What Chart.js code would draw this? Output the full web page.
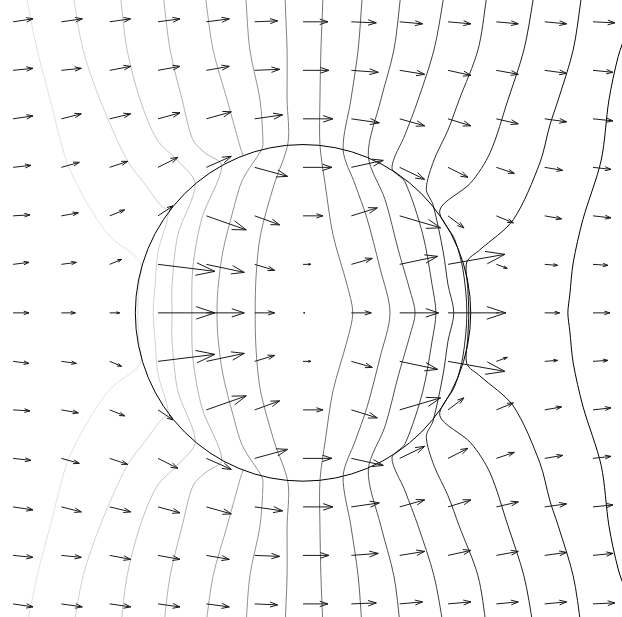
<!DOCTYPE html>
<html>
<head>
<meta charset="utf-8">
<script src="https://cdn.jsdelivr.net/npm/chart.js@4.4.1/dist/chart.umd.min.js"></script>
<style>
  html, body { margin: 0; padding: 0; background: #fff; }
  #wrap { width: 622px; height: 617px; }
</style>
</head>
<body>
<div id="wrap"><canvas id="chart" width="622" height="617"></canvas></div>
<script>
// Arrow tails sit on a 13 x 13 grid (data units).
const GRID_X = [-6, -5, -4, -3, -2, -1, 0, 1, 2, 3, 4, 5, 6];
const GRID_Y = [6, 5, 4, 3, 2, 1, 0, -1, -2, -3, -4, -5, -6];

// Field components per grid row (same order as GRID_Y), v positive = up.
const ARROW_U = [
    [20, 21, 21, 22, 23, 23, 25, 25, 23, 23, 22, 22, 22],
    [20, 20, 21, 22, 23, 25, 26, 27, 25, 23, 22, 22, 20],
    [20, 20, 21, 22, 25, 28, 30, 28, 25, 23, 22, 22, 20],
    [18, 18, 18, 20, 25, 33, 29, 32, 25, 20, 18, 18, 18],
    [17, 17, 15, 15, 40, 25, 20, 26, 41, 16, 17, 17, 18],
    [16, 15, 12, 57, 38, 20, 8, 21, 38, 57, 11, 13, 15],
    [16, 14, 10, 57, 38, 20, 2, 20, 39, 58, 2, 15, 17],
    [16, 15, 12, 57, 38, 20, 8, 21, 38, 57, 11, 13, 15],
    [17, 17, 15, 15, 40, 25, 20, 26, 41, 16, 17, 17, 18],
    [18, 18, 18, 20, 25, 33, 29, 32, 25, 20, 18, 18, 18],
    [20, 20, 21, 22, 25, 28, 30, 28, 25, 23, 22, 22, 20],
    [20, 20, 21, 22, 23, 25, 26, 27, 25, 23, 22, 22, 20],
    [20, 21, 21, 22, 23, 23, 25, 25, 23, 23, 22, 22, 22],
];
const ARROW_V = [
    [3, 3, 3, 3, 3, 1, 0, -1, -2, -2, -2, -2, -1],
    [2, 2, 4, 4, 4, 1, 0, -2, -4, -5, -4, -3, -2],
    [3, 5, 5, 6, 7, 4, 0, -4, -7, -7, -5, -3, -2],
    [2, 5, 6, 10, 11, -9, 0, 7, -12, -10, -6, -3, -2],
    [1, 3, 6, 10, -14, -9, 0, 8, -12, -12, -7, -3, -2],
    [2, 2, 5, -7, -8, -6, 0, 6, 8, 10, -4, -1, -1],
    [0, 0, 0, 0, 0, 0, 0, 0, 0, 0, 0, 0, 0],
    [-2, -2, -5, 7, 8, 6, 0, -6, -8, -10, 4, 1, 1],
    [-1, -3, -6, -10, 14, 9, 0, -8, 12, 12, 7, 3, 2],
    [-2, -5, -6, -10, -11, 9, 0, -7, 12, 10, 6, 3, 2],
    [-3, -5, -5, -6, -7, -4, 0, 4, 7, 7, 5, 3, 2],
    [-2, -2, -4, -4, -4, -1, 0, 2, 4, 5, 4, 3, 2],
    [-3, -3, -3, -3, -3, -1, 0, 1, 2, 2, 2, 2, 1],
];
const ARROW_UNIT = 1 / 48.4;   // data units per field unit

const SPHERE_R = 3.47;

// Equipotential lines, [x, y] in data units, traced top to bottom.
const C01 = [[-5.73, 6.7], [-5.71, 6.45], [-5.50, 5.42], [-5.23, 4.39], [-4.88, 3.09], [-4.47, 2.27], [-3.99, 1.57], [-3.37, 1.05], [-3.40, 0.50], [-3.42, 0], [-3.40, -0.50], [-3.37, -1.05], [-3.99, -1.57], [-4.47, -2.27], [-4.88, -3.09], [-5.23, -4.39], [-5.50, -5.42], [-5.71, -6.45], [-5.73, -6.7]];
const C02 = [[-4.76, 6.7], [-4.74, 6.45], [-4.55, 5.42], [-4.20, 4.39], [-3.64, 3.15], [-3.23, 2.60], [-2.96, 2.23], [-2.79, 2.06], [-3.00, 1.26], [-3.06, 0.58], [-3.10, 0], [-3.06, -0.58], [-3.00, -1.26], [-2.79, -2.06], [-2.96, -2.23], [-3.23, -2.60], [-3.64, -3.15], [-4.20, -4.39], [-4.55, -5.42], [-4.74, -6.45], [-4.76, -6.7]];
const C03 = [[-3.79, 6.7], [-3.77, 6.45], [-3.64, 5.42], [-3.37, 4.39], [-3.02, 3.57], [-2.61, 3.15], [-2.23, 2.66], [-2.59, 1.61], [-2.71, 0.58], [-2.71, 0], [-2.71, -0.58], [-2.59, -1.61], [-2.23, -2.66], [-2.61, -3.15], [-3.02, -3.57], [-3.37, -4.39], [-3.64, -5.42], [-3.77, -6.45], [-3.79, -6.7]];
const C04 = [[-2.90, 6.7], [-2.88, 6.45], [-2.75, 5.42], [-2.50, 4.39], [-2.28, 3.57], [-2.03, 3.30], [-1.68, 3.03], [-2.09, 1.96], [-2.28, 0.93], [-2.30, 0], [-2.28, -0.93], [-2.09, -1.96], [-1.68, -3.03], [-2.03, -3.30], [-2.28, -3.57], [-2.50, -4.39], [-2.75, -5.42], [-2.88, -6.45], [-2.90, -6.7]];
const C05A = [[-2.03, 6.7], [-2.01, 6.45], [-1.86, 5.42], [-1.57, 4.39], [-1.30, 3.42], [-1.24, 3.24]];
const C05B = [[-1.24, -3.24], [-1.30, -3.42], [-1.57, -4.39], [-1.86, -5.42], [-2.01, -6.45], [-2.03, -6.7]];
const C06 = [[-1.19, 6.7], [-1.18, 6.45], [-1.10, 5.42], [-0.89, 4.39], [-0.83, 3.57], [-0.85, 3.38], [-1.25, 2.75], [-1.45, 2.10], [-1.66, 1.26], [-1.76, 0.50], [-1.78, 0], [-1.76, -0.50], [-1.66, -1.26], [-1.45, -2.10], [-1.25, -2.75], [-0.85, -3.38], [-0.83, -3.57], [-0.89, -4.39], [-1.10, -5.42], [-1.18, -6.45], [-1.19, -6.7]];
const C07 = [[-0.37, 6.7], [-0.37, 6.45], [-0.33, 5.42], [-0.33, 4.39], [-0.31, 3.51], [-0.60, 2.64], [-0.88, 1.61], [-0.97, 0.78], [-0.99, 0], [-0.97, -0.78], [-0.88, -1.61], [-0.60, -2.64], [-0.31, -3.51], [-0.33, -4.39], [-0.33, -5.42], [-0.37, -6.45], [-0.37, -6.7]];
const C08 = [[0.41, 6.7], [0.41, 6.45], [0.37, 5.42], [0.35, 4.39], [0.35, 3.46], [0.46, 2.64], [0.62, 1.61], [0.91, 0.58], [1.03, 0], [0.91, -0.58], [0.62, -1.61], [0.46, -2.64], [0.35, -3.46], [0.35, -4.39], [0.37, -5.42], [0.41, -6.45], [0.41, -6.7]];
const C09 = [[1.24, 6.7], [1.22, 6.45], [1.14, 5.42], [0.99, 4.39], [0.83, 3.36], [1.08, 2.64], [1.32, 1.96], [1.59, 0.93], [1.80, 0], [1.59, -0.93], [1.32, -1.96], [1.08, -2.64], [0.83, -3.36], [0.99, -4.39], [1.14, -5.42], [1.22, -6.45], [1.24, -6.7]];
const C10 = [[2.03, 6.7], [2.01, 6.45], [1.88, 5.42], [1.61, 4.39], [1.35, 3.24], [1.70, 2.33], [1.97, 1.30], [2.21, 0.47], [2.32, 0], [2.21, -0.47], [1.97, -1.30], [1.70, -2.33], [1.35, -3.24], [1.61, -4.39], [1.88, -5.42], [2.01, -6.45], [2.03, -6.7]];
const C11 = [[2.92, 6.7], [2.90, 6.45], [2.71, 5.42], [2.38, 4.39], [2.11, 3.67], [1.84, 2.99], [2.11, 2.70], [2.48, 1.61], [2.67, 0.58], [2.75, 0], [2.67, -0.58], [2.48, -1.61], [2.11, -2.70], [1.84, -2.99], [2.11, -3.67], [2.38, -4.39], [2.71, -5.42], [2.90, -6.45], [2.92, -6.7]];
const C12 = [[3.81, 6.7], [3.79, 6.45], [3.62, 5.42], [3.23, 4.39], [3.00, 3.77], [2.71, 3.15], [2.55, 2.55], [2.69, 2.23], [2.90, 1.26], [3.00, 0.58], [3.12, 0], [3.00, -0.58], [2.90, -1.26], [2.69, -2.23], [2.55, -2.55], [2.71, -3.15], [3.00, -3.77], [3.23, -4.39], [3.62, -5.42], [3.79, -6.45], [3.81, -6.7]];
const C13 = [[4.78, 6.7], [4.76, 6.45], [4.57, 5.42], [4.24, 4.39], [3.87, 3.30], [3.47, 2.68], [2.83, 2.12], [3.14, 1.51], [3.31, 0.89], [3.39, 0], [3.31, -0.89], [3.14, -1.51], [2.83, -2.12], [3.47, -2.68], [3.87, -3.30], [4.24, -4.39], [4.57, -5.42], [4.76, -6.45], [4.78, -6.7]];
const C14 = [[5.77, 6.7], [5.75, 6.45], [5.59, 5.42], [5.28, 4.39], [5.11, 3.88], [4.90, 3.09], [4.35, 1.92], [3.66, 1.30], [3.39, 1.05], [3.41, 0.50], [3.43, 0], [3.41, -0.50], [3.39, -1.05], [3.66, -1.30], [4.35, -1.92], [4.90, -3.09], [5.11, -3.88], [5.28, -4.39], [5.59, -5.42], [5.75, -6.45], [5.77, -6.7]];
const C15 = [[6.70, 5.80], [6.52, 5.28], [6.33, 4.39], [6.17, 3.15], [5.79, 1.92], [5.59, 1.03], [5.52, 0.37], [5.48, 0], [5.52, -0.37], [5.59, -1.03], [5.79, -1.92], [6.17, -3.15], [6.33, -4.39], [6.52, -5.28], [6.70, -5.80]];

// Which level each traced piece belongs to (0 = lowest potential, left).
const CONTOUR_LINES = [C01, C02, C03, C04, C05A, C05B, C06, C07, C08, C09, C10, C11, C12, C13, C14, C15];
const CONTOUR_LEVEL = [0, 1, 2, 3, 4, 4, 5, 6, 7, 8, 9, 10, 11, 12, 13, 14];
const N_LEVELS = 15;

// light grey on the left to black on the right
function levelColour(level) {
    const g = Math.round(225 - level * 225 / (N_LEVELS - 1));
    return `rgb(${g},${g},${g})`;
}

const quiverPlugin = {
    id: "quiver",
    afterDatasetsDraw(chart) {
        const { ctx } = chart;
        const xs = chart.scales.x;
        const ys = chart.scales.y;
        ctx.save();
        ctx.lineWidth = 1;

        // sphere outline
        const cx = xs.getPixelForValue(0);
        const cy = ys.getPixelForValue(0);
        const rx = xs.getPixelForValue(SPHERE_R) - cx;
        const ry = cy - ys.getPixelForValue(SPHERE_R);
        ctx.strokeStyle = "#000";
        ctx.beginPath();
        ctx.ellipse(cx, cy, rx, ry, 0, 0, Math.PI * 2);
        ctx.stroke();

        // arrows, quiver-style heads (a third of the shaft long)
        const alpha = 0.33, beta = 0.33;
        ctx.strokeStyle = "#1a1a1a";
        GRID_Y.forEach((gy, r) => {
            GRID_X.forEach((gx, c) => {
                const u = ARROW_U[r][c];
                const v = ARROW_V[r][c];
                const x0 = xs.getPixelForValue(gx);
                const y0 = ys.getPixelForValue(gy);
                const x1 = xs.getPixelForValue(gx + u * ARROW_UNIT);
                const y1 = ys.getPixelForValue(gy + v * ARROW_UNIT);
                const du = x1 - x0;
                const dv = y1 - y0;
                ctx.beginPath();
                ctx.moveTo(x0, y0);
                ctx.lineTo(x1, y1);
                ctx.moveTo(x1 - alpha * (du + beta * dv), y1 - alpha * (dv - beta * du));
                ctx.lineTo(x1, y1);
                ctx.lineTo(x1 - alpha * (du - beta * dv), y1 - alpha * (dv + beta * du));
                ctx.stroke();
            });
        });
        ctx.restore();
    },
};

new Chart(document.getElementById("chart"), {
    type: "scatter",
    data: {
        datasets: CONTOUR_LINES.map((pts, i) => ({
            data: pts.map(([x, y]) => ({ x, y })),
            showLine: true,
            borderColor: levelColour(CONTOUR_LEVEL[i]),
            borderWidth: 1,
            pointRadius: 0,
            tension: 0.3,
            fill: false,
        })),
    },
    options: {
        responsive: false,
        animation: false,
        events: [],
        layout: { padding: 0 },
        plugins: { legend: { display: false }, tooltip: { enabled: false } },
        scales: {
            x: { type: "linear", min: -6.27, max: 6.60, display: false },
            y: { type: "linear", min: -6.27, max: 6.45, display: false },
        },
    },
    plugins: [quiverPlugin],
});
</script>
</body>
</html>
